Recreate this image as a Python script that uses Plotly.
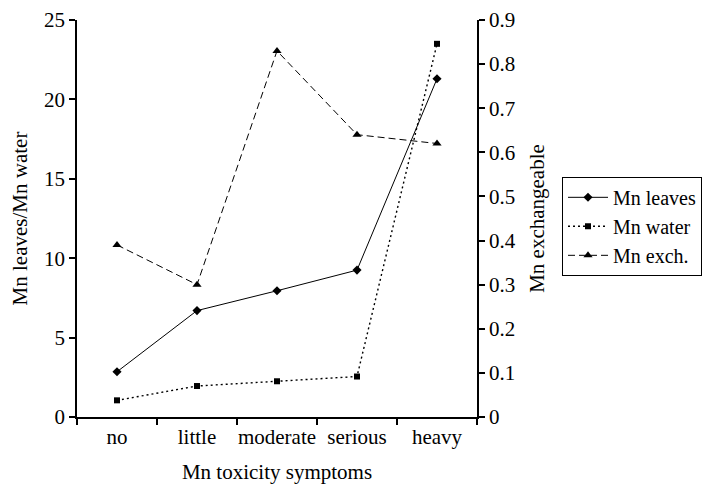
import plotly.graph_objects as go

# Mn toxicity classes and the three measured series
symptoms = ["no", "little", "moderate", "serious", "heavy"]
mn_leaves = [2.85, 6.7, 7.95, 9.25, 21.3]
mn_water = [1.05, 1.95, 2.25, 2.55, 23.5]
mn_exch = [0.39, 0.30, 0.83, 0.64, 0.62]

font = dict(family="Liberation Serif", size=21, color="black")
legend_font = dict(family="Liberation Serif", size=20, color="black")

fig = go.Figure()

fig.add_trace(go.Scatter(x=symptoms, y=mn_leaves, name="Mn leaves", mode="lines+markers",
                         line=dict(color="black", width=1),
                         marker=dict(symbol="diamond", size=7, color="black")))
fig.add_trace(go.Scatter(x=symptoms, y=mn_water, name="Mn water", mode="lines+markers",
                         line=dict(color="black", width=1.4, dash="2px,3px"),
                         marker=dict(symbol="square", size=6, color="black")))
fig.add_trace(go.Scatter(x=symptoms, y=mn_exch, name="Mn exch.", mode="lines+markers",
                         yaxis="y2",
                         line=dict(color="black", width=1, dash="7px,4px"),
                         marker=dict(symbol="triangle-up", size=8, color="black")))

axis_common = dict(ticks="outside", ticklen=6, tickwidth=1.5, tickcolor="black",
                   showline=True, linecolor="black", linewidth=1.5, showgrid=False,
                   tickfont=font, automargin=False)

# page body has an 8px margin, so the figure is a bit smaller than the window
fig.update_layout(
    width=706, height=476,
    margin=dict(l=69, r=237, t=12, b=67),
    paper_bgcolor="white", plot_bgcolor="white",
    font=font,
    showlegend=True,
    legend=dict(x=1.2125, y=0.605, xanchor="left", yanchor="top",
                bordercolor="black", borderwidth=1, bgcolor="white",
                font=legend_font, tracegroupgap=0, itemwidth=40),
    xaxis=dict(type="category", range=[-0.5, 4.5], tickson="boundaries", tickangle=0,
               title=dict(text="Mn toxicity symptoms", font=font, standoff=16),
               **axis_common),
    yaxis=dict(range=[0, 25], dtick=5, zeroline=False,
               title=dict(text="Mn leaves/Mn water", font=font),
               **axis_common),
    yaxis2=dict(range=[0, 0.9], dtick=0.1, overlaying="y", side="right", zeroline=False,
                title=dict(text="Mn exchangeable", font=font),
                **axis_common),
)

fig.write_html("out.html")
